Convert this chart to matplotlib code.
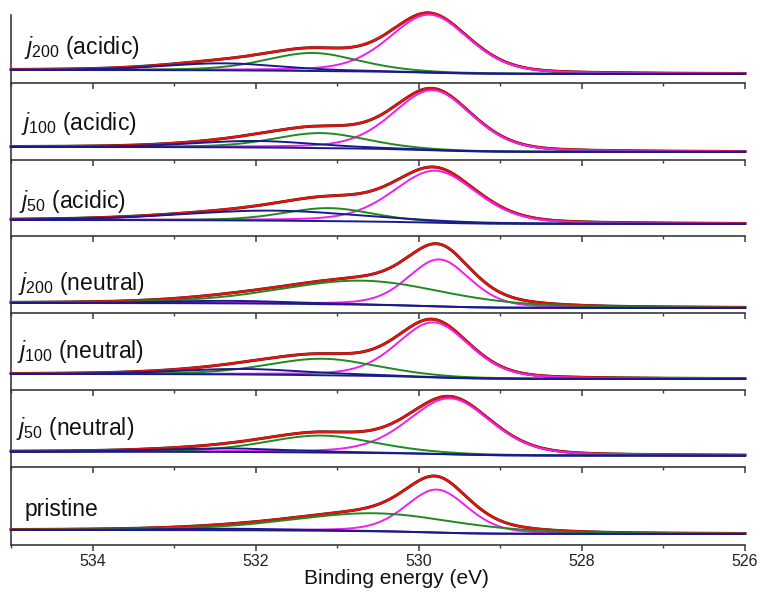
import numpy as np
import matplotlib
matplotlib.use('Agg')
import matplotlib.pyplot as plt
from matplotlib.ticker import MultipleLocator

plt.rcParams['font.family'] = ['Liberation Sans', 'DejaVu Sans']
plt.rcParams['mathtext.fontset'] = 'custom'
plt.rcParams['mathtext.rm'] = 'Liberation Sans'
plt.rcParams['mathtext.it'] = 'Liberation Sans:italic'

# O 1s fits, panels from top to bottom
samples = [r'$\mathit{j}_{\mathrm{200}}$ (acidic)',
           r'$\mathit{j}_{\mathrm{100}}$ (acidic)',
           r'$\mathit{j}_{\mathrm{50}}$ (acidic)',
           r'$\mathit{j}_{\mathrm{200}}$ (neutral)',
           r'$\mathit{j}_{\mathrm{100}}$ (neutral)',
           r'$\mathit{j}_{\mathrm{50}}$ (neutral)',
           'pristine']

# lattice oxygen (magenta): position (eV), height (a.u.), FWHM (eV)
lat_pos = [529.87, 529.83, 529.80, 529.75, 529.82, 529.62, 529.78]
lat_height = [58, 60, 52, 47, 55, 56, 43]
lat_fwhm = [1.15, 1.15, 1.2, 0.9, 1.05, 1.2, 0.9]

# surface hydroxyl (green)
oh_pos = [531.30, 531.20, 531.10, 530.70, 531.18, 531.20, 530.55]
oh_height = [18, 15, 13, 24, 16.5, 17, 18]
oh_fwhm = [1.35, 1.35, 1.3, 2.4, 1.6, 1.6, 2.4]

# adsorbed water (navy)
ads_pos = [532.40, 532.00, 531.80, 532.30, 532.15, 532.35, 532.30]
ads_height = [7, 6.5, 10, 2.5, 5.5, 3.5, 1.5]
ads_fwhm = [1.7, 1.8, 2.6, 1.8, 1.9, 1.9, 2.0]

# Shirley background: level at low binding energy and step height
bg_level = [9, 8, 12, 5, 11, 11.3, 11]
bg_step = [4, 5, 4, 5, 5, 4, 4]

# vertical range of each panel (a.u.)
panel_top = [68, 77, 76, 77, 77, 77, 78]

# label placement (axes fraction, a.u. baseline)
label_x = [0.018, 0.013, 0.011, 0.010, 0.008, 0.007, 0.018]
label_y = [29, 30, 28, 23, 32, 32, 29]

C_RED = '#e3120b'
C_MAG = '#f01ef0'
C_GRN = '#1f8a1f'
C_NAV = '#1a1a8c'
C_AX = '#3a3a3a'

be = np.linspace(526, 535, 901)


def pseudo_voigt(x, pos, height, fwhm, mix=0.3):
    u = 4 * ((x - pos) / fwhm) ** 2
    return height * ((1 - mix) * np.exp(-np.log(2) * u) + mix / (1 + u))


def shirley(x, signal, level, step):
    cum = np.concatenate([[0], np.cumsum(0.5 * (signal[1:] + signal[:-1]) * np.diff(x))])
    return level + step * cum / cum[-1]


fig = plt.figure(figsize=(7.6, 5.92), dpi=100)
gs = fig.add_gridspec(len(samples), 1, height_ratios=panel_top, hspace=0,
                      left=11 / 760, right=745 / 760,
                      bottom=47 / 592, top=577 / 592)

for i, name in enumerate(samples):
    ax = fig.add_subplot(gs[i])
    lat = pseudo_voigt(be, lat_pos[i], lat_height[i], lat_fwhm[i])
    oh = pseudo_voigt(be, oh_pos[i], oh_height[i], oh_fwhm[i])
    ads = pseudo_voigt(be, ads_pos[i], ads_height[i], ads_fwhm[i])
    bg = shirley(be, lat + oh + ads, bg_level[i], bg_step[i])
    env = lat + oh + ads + bg

    # measured trace sits under the fitted envelope
    ax.plot(be, env, color='#222222', lw=2.1, clip_on=False, zorder=2)
    ax.plot(be, env, color=C_RED, lw=1.75, clip_on=False, zorder=3)
    ax.plot(be, lat + bg, color=C_MAG, lw=1.4, clip_on=False, zorder=4)
    ax.plot(be, oh + bg, color=C_GRN, lw=1.4, clip_on=False, zorder=5)
    ax.plot(be, ads + bg, color=C_NAV, lw=1.4, clip_on=False, zorder=6)
    ax.plot(be, bg, color=C_NAV, lw=1.4, clip_on=False, zorder=6)

    ax.set_xlim(535, 526)
    ax.set_ylim(0, panel_top[i])
    ax.xaxis.set_major_locator(MultipleLocator(2))
    ax.xaxis.set_minor_locator(MultipleLocator(1))
    ax.set_yticks([])
    ax.tick_params(axis='x', which='major', direction='out', length=4.5,
                   width=1.1, color=C_AX, labelsize=11.5, pad=2,
                   labelcolor='#222222')
    ax.tick_params(axis='x', which='minor', direction='out', length=2.5,
                   width=1.0, color=C_AX)
    if i < len(samples) - 1:
        ax.tick_params(axis='x', which='both', labelbottom=False)
    for side in ('top', 'right'):
        ax.spines[side].set_visible(False)
    for side in ('left', 'bottom'):
        ax.spines[side].set_color(C_AX)
        ax.spines[side].set_linewidth(1.2)
    ax.patch.set_alpha(0)

    ax.text(label_x[i], label_y[i], name, transform=ax.get_yaxis_transform(),
            fontsize=16.5, ha='left', va='baseline', color='#111111', zorder=10)

fig.text(396.5 / 760, 14 / 592, 'Binding energy (eV)', fontsize=15,
         ha='center', va='center', color='#111111')

fig.savefig('out.png', dpi=100)
